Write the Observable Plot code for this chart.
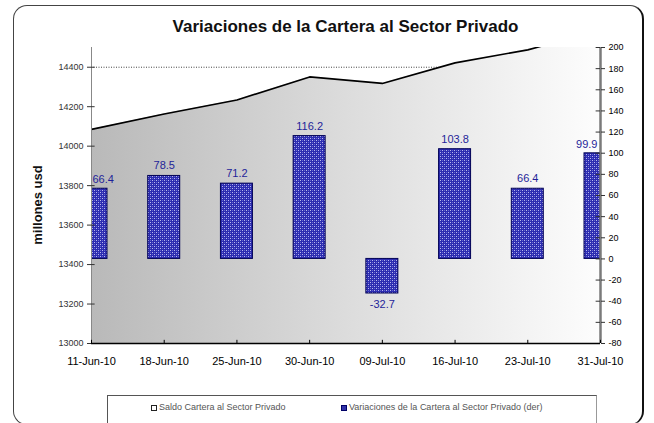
<!DOCTYPE html>
<html><head><meta charset="utf-8">
<script src="https://cdn.jsdelivr.net/npm/d3@7"></script>
<script src="https://cdn.jsdelivr.net/npm/@observablehq/plot@0.6"></script>
<style>
body{margin:0;background:#fff;font-family:"Liberation Sans",Arial,sans-serif}
#wrap{position:relative;width:654px;height:423px;overflow:hidden;background:#fff}
#frame{position:absolute;left:13px;top:5px;width:631px;height:420px;border:1px solid #444;border-right:2px solid #111;border-radius:14px;box-sizing:border-box}
#title{position:absolute;left:91px;width:509px;top:17px;text-align:center;font-size:17px;font-weight:bold;color:#111}
#ylab{position:absolute;left:37px;top:205px;transform:translate(-50%,-50%) rotate(-90deg);font-size:13px;font-weight:bold;color:#111;white-space:nowrap}
#legend{position:absolute;left:107px;top:395px;width:490px;height:40px;border-left:1px solid #555;border-top:1px solid #555;border-right:1px solid #999;box-sizing:border-box;font-size:9px;color:#555}
#legend span{position:absolute;top:6px;white-space:nowrap}
.sw{display:inline-block;width:6px;height:6px;margin-right:2px;vertical-align:-1px;box-sizing:border-box}
#chart{position:absolute;left:0;top:0}
</style></head>
<body>
<div id="wrap">
<div id="frame"></div>
<div id="chart"></div>
<div id="title">Variaciones de la Cartera al Sector Privado</div>
<div id="ylab">millones usd</div>
<div id="legend">
<span style="left:43px"><i class="sw" style="border:1px solid #222;background:#fff"></i>Saldo Cartera al Sector Privado</span>
<span style="left:233px"><i class="sw" style="background:#3333aa;border:1px solid #000066"></i>Variaciones de la Cartera al Sector Privado (der)</span>
</div>
</div>
<script>
const fechas = ["11-Jun-10","18-Jun-10","25-Jun-10","30-Jun-10","09-Jul-10","16-Jul-10","23-Jul-10","31-Jul-10"];
const saldo = [14085,14163,14234,14351,14318,14422,14488,14588];
const variaciones = [66.4,78.5,71.2,116.2,-32.7,103.8,66.4,99.9];
const ticksIzq = [13000,13200,13400,13600,13800,14000,14200,14400];
const ticksDer = [-80,-60,-40,-20,0,20,40,60,80,100,120,140,160,180,200];
const gridIzq = [14400];
const domIzq = [13000,14500];
const domDer = [-80,200];

const toL = v => domIzq[0] + (v - domDer[0]) * (domIzq[1]-domIzq[0]) / (domDer[1]-domDer[0]);
const toR = v => Math.round(domDer[0] + (v - domIzq[0]) * (domDer[1]-domDer[0]) / (domIzq[1]-domIzq[0]));
const data = fechas.map((f,i)=>({i, f, saldo: saldo[i], v: variaciones[i]}));
const last = fechas.length - 1;
const hw = 0.22;
const blue = "#1f1f99";

const chart = Plot.plot({
  width: 654, height: 423,
  marginLeft: 91, marginRight: 54, marginTop: 47, marginBottom: 80,
  style: {fontFamily: "Liberation Sans, Arial, sans-serif", background: "transparent", overflow: "visible"},
  x: {domain: [0, last]},
  y: {domain: domIzq},
  marks: [
    Plot.gridY(gridIzq, {stroke: "#444", strokeOpacity: 1, strokeDasharray: "1,1.5"}),
    Plot.areaY(data, {x: "i", y1: domIzq[0], y2: "saldo", fill: "url(#gradGris)", clip: true}),
    Plot.lineY(data, {x: "i", y: "saldo", stroke: "#000", strokeWidth: 1.6, clip: true}),
    Plot.rectY(data, {x1: d => d.i - hw, x2: d => d.i + hw, y1: toL(0), y2: d => toL(d.v), fill: "url(#patAzul)", stroke: "#000055", strokeWidth: 1, clip: true}),
    Plot.text(data.filter(d => d.v >= 0 && d.i === 0), {x: "i", y: d => toL(d.v), text: d => d.v.toFixed(1), textAnchor: "start", dx: 1, dy: -9, fill: blue, fontSize: 11}),
    Plot.text(data.filter(d => d.v >= 0 && d.i === last), {x: "i", y: d => toL(d.v), text: d => d.v.toFixed(1), textAnchor: "end", dx: -3, dy: -9, fill: blue, fontSize: 11}),
    Plot.text(data.filter(d => d.v >= 0 && d.i > 0 && d.i < last), {x: "i", y: d => toL(d.v), text: d => d.v.toFixed(1), dy: -10, fill: blue, fontSize: 11}),
    Plot.text(data.filter(d => d.v < 0), {x: "i", y: d => toL(d.v), text: d => d.v.toFixed(1), dy: 11, fill: blue, fontSize: 11}),
    // left axis
    Plot.ruleX([0], {stroke: "#888", strokeWidth: 1}),
    Plot.axisY(ticksIzq, {anchor: "left", tickSize: 4, tickPadding: 4, fontSize: 9, stroke: "#333", color: "#333", tickFormat: d => String(d), label: null}),
    Plot.ruleY(ticksIzq, {x1: 0, x2: 0.05, stroke: "#333"}),
    // right axis
    Plot.ruleX([last], {stroke: "#7a7a7a", strokeWidth: 2.5}),
    Plot.axisY(ticksDer.map(toL), {anchor: "right", tickSize: 4, tickPadding: 4, fontSize: 9, stroke: "#333", tickFormat: v => String(toR(v)), label: null}),
    Plot.ruleY(ticksDer.map(toL), {x1: last - 0.06, x2: last, stroke: "#333"}),
    // bottom axis
    Plot.ruleY([domIzq[0]], {stroke: "#000", strokeWidth: 1.5}),
    Plot.ruleX(d3.range(fechas.length), {y1: domIzq[0], y2: domIzq[0] + 16, stroke: "#000"}),
    Plot.axisX(d3.range(fechas.length), {tickSize: 0, tickPadding: 14, fontSize: 11, tickFormat: i => fechas[i], label: null})
  ]
});

const svg = d3.select(chart);
const defs = svg.insert("defs", ":first-child");
const g = defs.append("linearGradient").attr("id", "gradGris").attr("gradientUnits", "userSpaceOnUse")
  .attr("x1", 91).attr("x2", 600).attr("y1", 0).attr("y2", 0);
g.append("stop").attr("offset", 0).attr("stop-color", "#b9b9b9");
g.append("stop").attr("offset", 0.5).attr("stop-color", "#dcdcdc");
g.append("stop").attr("offset", 1).attr("stop-color", "#fdfdfd");
const p = defs.append("pattern").attr("id", "patAzul").attr("patternUnits", "userSpaceOnUse").attr("width", 4).attr("height", 4);
p.append("rect").attr("width", 4).attr("height", 4).attr("fill", "#2c2cb0");
p.append("rect").attr("x", 0).attr("y", 0).attr("width", 1).attr("height", 1).attr("fill", "#b8b8ee");
p.append("rect").attr("x", 2).attr("y", 2).attr("width", 1).attr("height", 1).attr("fill", "#b8b8ee");
p.append("rect").attr("x", 2).attr("y", 0).attr("width", 1).attr("height", 1).attr("fill", "#6666d0");
p.append("rect").attr("x", 0).attr("y", 2).attr("width", 1).attr("height", 1).attr("fill", "#6666d0");

document.getElementById("chart").appendChild(chart);
</script>
</body></html>
